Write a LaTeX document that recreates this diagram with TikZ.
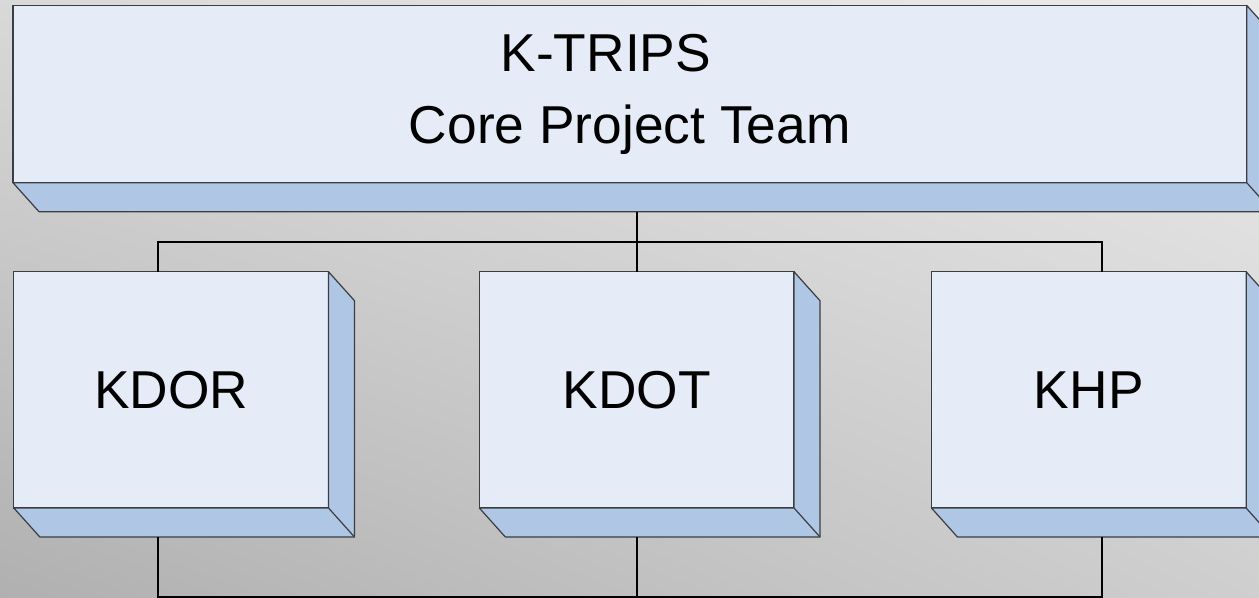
\documentclass[tikz,border=0pt]{standalone}
\usepackage{fontspec}
\setmainfont{Liberation Sans}
\usetikzlibrary{positioning, calc, shadings}

\definecolor{facecol}{HTML}{E6ECF7}
\definecolor{depthcol}{HTML}{B0C6E5}
\definecolor{edgecol}{HTML}{3A3D42}

% side and bottom faces of a box node
\newcommand{\boxdepth}[1]{%
  \filldraw[depthface] (#1.south west) -- ++(26,29) -- ($(#1.south east)+(26,29)$)
    -- ($(#1.north east)+(26,29)$) -- (#1.north east) -- (#1.south east) -- cycle;
  \draw[depthface] (#1.south east) -- ++(26,29);
}

\begin{document}
\begin{tikzpicture}[x=0.75pt, y=-0.75pt,
    unit/.style={draw=edgecol, fill=facecol, line width=0.9pt, outer sep=0pt,
      minimum width=236pt, minimum height=177.2pt,
      font=\fontsize{40}{54}\selectfont},
    depthface/.style={draw=edgecol, fill=depthcol, line width=0.9pt, line join=round},
    wire/.style={draw=black, line width=1.2pt}]
  \useasboundingbox (0,0) rectangle (1259,598);
  \clip (0,0) rectangle (1259,598);
  \shade[upper left=black!15, upper right=black!8, lower left=black!31, lower right=black!19]
    (0,0) rectangle (1259,598);

  \node[unit, minimum width=925.3pt, minimum height=133pt, align=center] (core) at (629.8,94)
    {K-TRIPS\hspace*{36pt}\\Core Project Team};
  \node[unit] (kdor) at (171.2,389.9) {KDOR};
  \node[unit] (kdot) at (636.7,389.9) {KDOT};
  \node[unit] (khp) at (1088.8,389.9) {KHP};
  \foreach \b in {core, kdor, kdot, khp} {\boxdepth{\b}}

  \coordinate (busL) at (158,242);
  \coordinate (busR) at (1102,242);
  \coordinate (baseL) at (158,597);
  \coordinate (baseR) at (1102,597);

  \draw[wire] ($(core.south -| kdot.north)+(0,29)$) -- (busL -| kdot.north);
  \draw[wire] (busL |- kdor.north) -- (busL) -- (busR) -- (busR |- khp.north);
  \draw[wire] (busL -| kdot.north) -- (kdot.north);
  \draw[wire] ($(busL |- kdor.south)+(0,29)$) -- (baseL) -- (baseR) -- ($(busR |- khp.south)+(0,29)$);
  \draw[wire] ($(kdot.south)+(0,29)$) -- (baseL -| kdot.south);
\end{tikzpicture}
\end{document}
